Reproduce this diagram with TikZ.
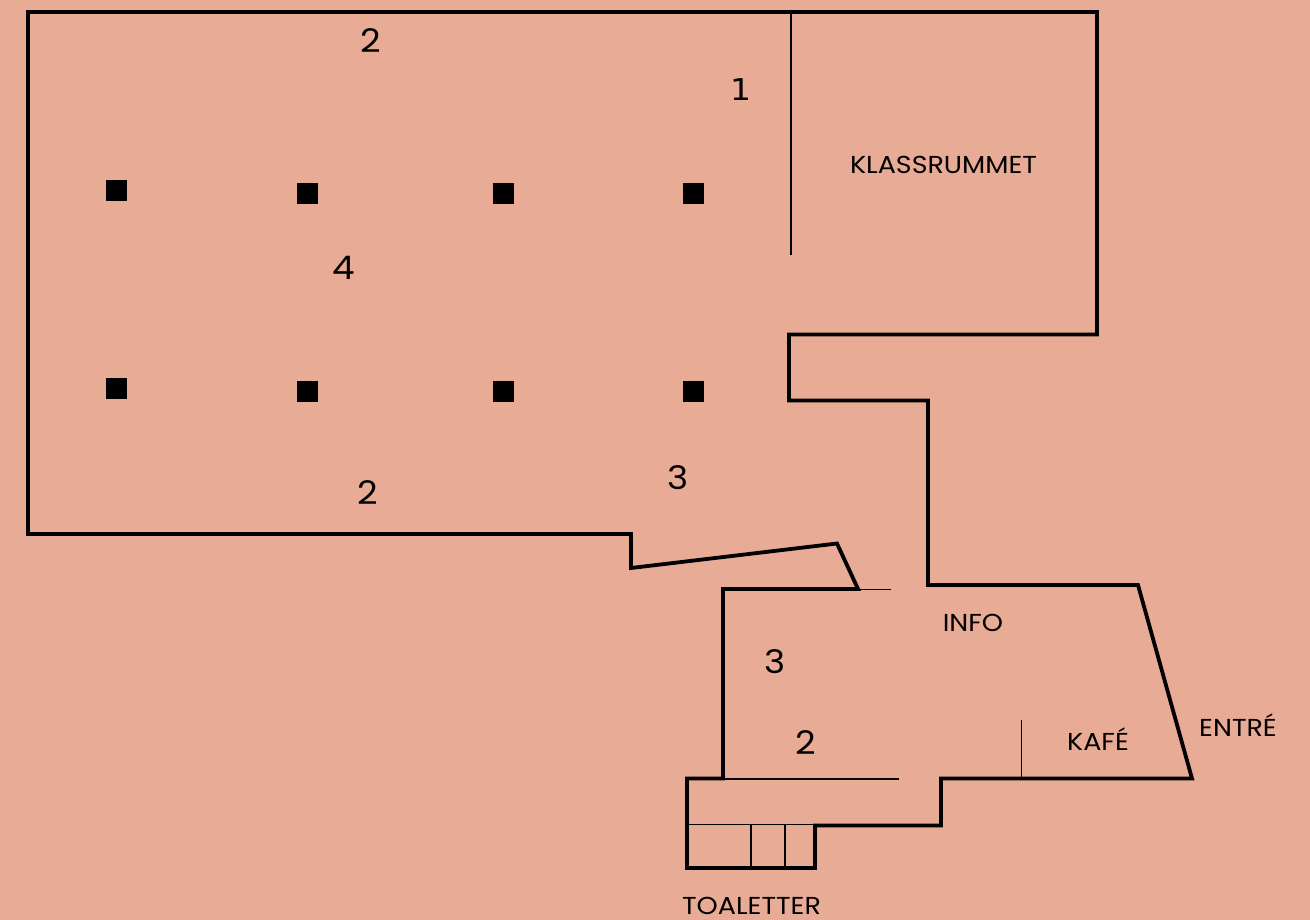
\documentclass[tikz,border=0pt]{standalone}
\usepackage{fontspec}
\setmainfont{Poppins}[FakeStretch=1.1]
\newfontfamily\numfont{Poppins}[FakeStretch=1.1]
\newfontfamily\onefont{DejaVu Sans}[FakeStretch=1.1]
\definecolor{bgc}{HTML}{E8AB95}
\tikzset{
 wall/.style={line width=3.8pt,line join=miter,miter limit=10},
 thinwall/.style={line width=1.5pt},
 pillar/.style={fill=black,draw=none,minimum size=21pt,inner sep=0pt,outer sep=0pt,shape=rectangle},
 lab/.style={inner sep=0pt,font=\fontsize{24.5}{26}\selectfont},
 num/.style={inner sep=0pt,font=\numfont\fontsize{32.5}{34}\selectfont},
 numone/.style={inner sep=0pt,font=\onefont\fontsize{30}{32}\selectfont}
}
\begin{document}
\begin{tikzpicture}[x=1pt,y=-1pt]
\fill[bgc] (0,0) rectangle (1310,920);
\useasboundingbox (0,0) rectangle (1310,920);
\draw[wall] (28,12)--(1097,12)--(1097,334.5)--(789,334.5)--(789,400.5)--(928,400.5)--(928,585)--(1138,585)--(1192,778.5)--(941,778.5)--(941,825.5)--(815,825.5)--(815,868)--(687,868)--(687,778.5)--(723,778.5)--(723,589)--(858,589)--(837,543.5)--(631,568)--(631,534)--(28,534)--cycle;
\draw[thinwall] (791,12)--(791,255);
\draw[thinwall] (858,589.5)--(891,589.5);
\draw[thinwall] (723,779)--(899,779);
\draw[thinwall] (1021.5,720)--(1021.5,778);
\draw[thinwall] (687,824.5)--(815,824.5);
\draw[thinwall] (751,825)--(751,868);
\draw[thinwall] (785,825)--(785,868);
\foreach \n/\x/\y in {a/116/190.5,b/307/193.5,c/503/193.5,d/693/193.5,e/116/388.5,f/307/391.5,g/503/391.5,h/693/391.5}
  \node[pillar] (p\n) at (\x,\y) {};
\node[numone] (n1) at (740.5,90) {1};
\node[num] (n2a) at (370.5,41) {2};
\node[num] (n4) at (343.5,268) {4};
\node[num] (n2b) at (368,493) {2};
\node[num] (n3a) at (678,478) {3};
\node[num] (n3b) at (775,661.5) {3};
\node[num] (n2c) at (806,743) {2};
\node[lab] (klass) at (943.5,165) {KLASSRUMMET};
\node[lab] (info) at (973,622.5) {INFO};
\node[lab] (kafe) at (1098,739) {KAFÉ};
\node[lab] (entre) at (1238,725.5) {ENTRÉ};
\node[lab] (toa) at (751.5,905.5) {TOALETTER};
\end{tikzpicture}
\end{document}
